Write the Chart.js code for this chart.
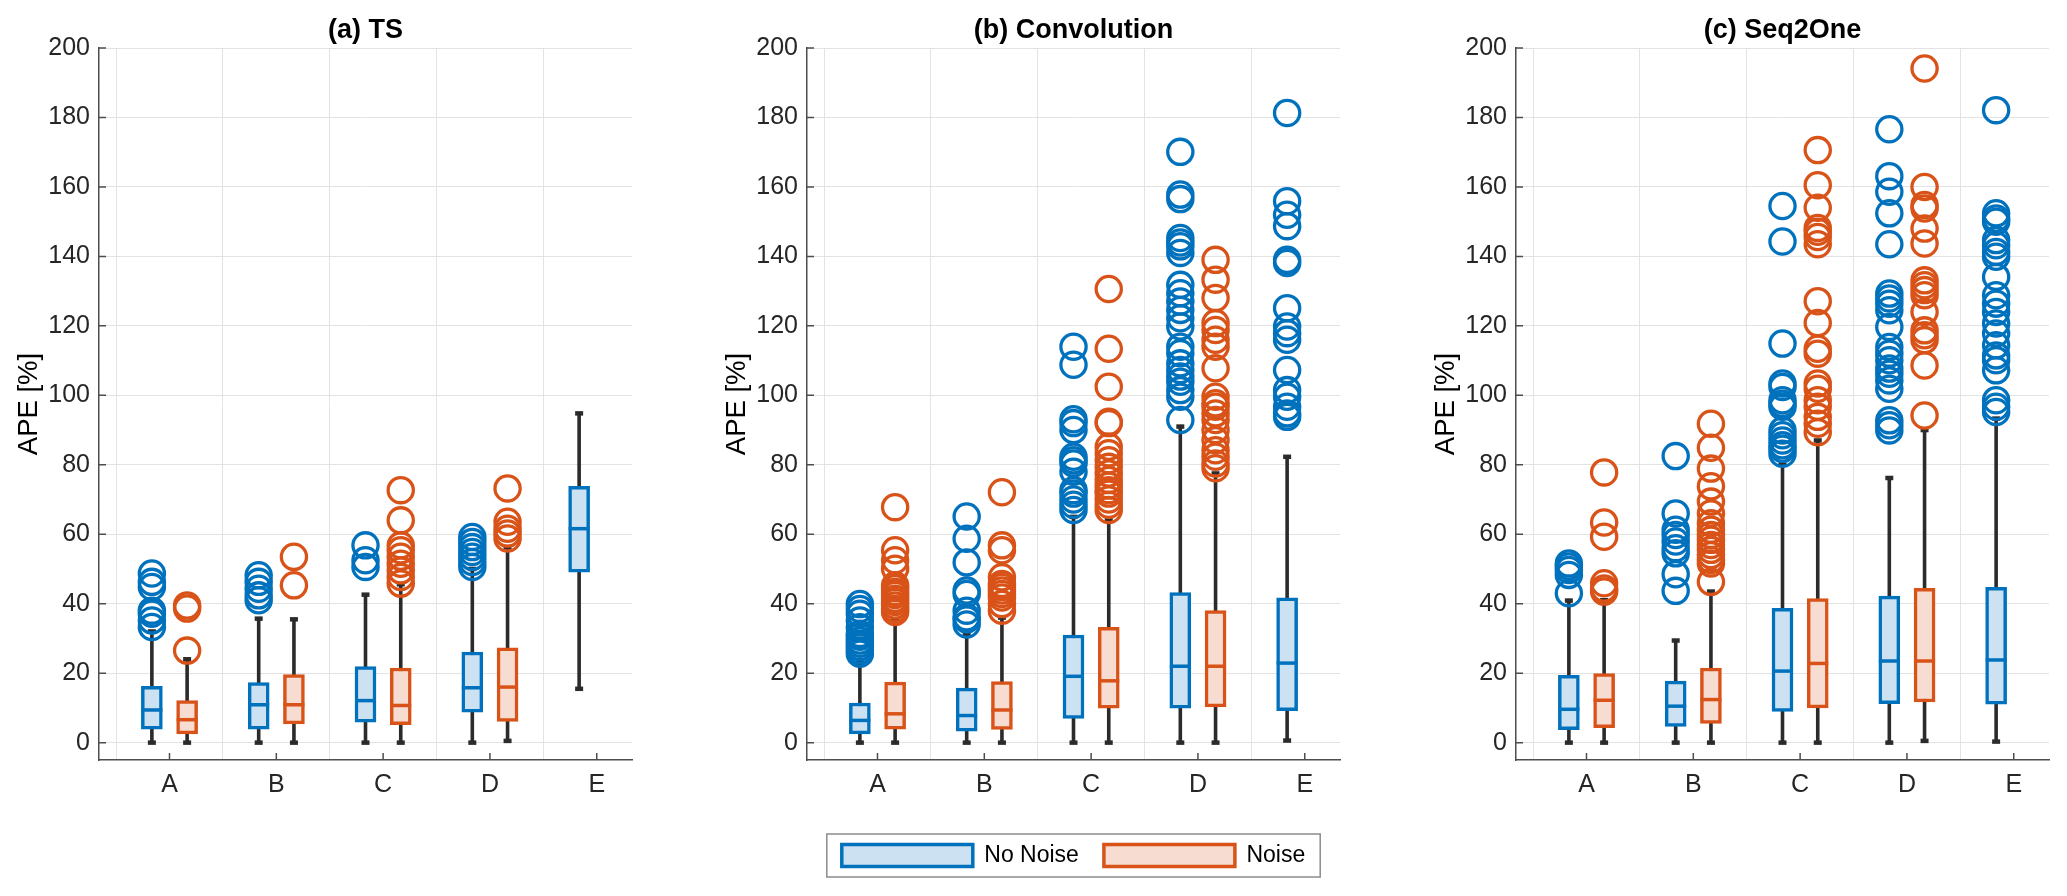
<!DOCTYPE html>
<html>
<head>
<meta charset="utf-8">
<script src="https://cdn.jsdelivr.net/npm/chart.js@4.4.0/dist/chart.umd.min.js"></script>
<style>
  html, body { margin: 0; padding: 0; background: #fff; }
  #wrap { position: relative; width: 2067px; height: 896px; overflow: hidden; }
  #wrap canvas { position: absolute; top: 0; }
</style>
</head>
<body>
<div id="wrap">
  <canvas id="chartTS" width="700" height="896" style="left:0px"></canvas>
  <canvas id="chartConv" width="700" height="896" style="left:708px"></canvas>
  <canvas id="chartSeq" width="650" height="896" style="left:1417px"></canvas>
</div>
<script>
// ---- data ----
const categories = ['A', 'B', 'C', 'D', 'E'];
const groupNames = ['No Noise', 'Noise'];
const yTicks = [0, 20, 40, 60, 80, 100, 120, 140, 160, 180, 200];

// box stats per category: [q1, median, q3, whiskerLow, whiskerHigh]
const tsNoNoise = [[3.9, 9.4, 16.2, 0, 32], [3.9, 10.9, 17.3, 0, 35.7], [5.9, 12.1, 21.9, 0, 42.6], [8.75, 15.8, 26.1, 0, 50], [49.1, 61.6, 73.8, 15.5, 94.8]];
const tsNoise = [[2.5, 6.6, 12.1, 0, 24], [5.4, 10.9, 19.6, 0, 35.5], [5.2, 10.7, 21.5, 0, 45.6], [6.1, 16, 27.3, 0.5, 56.3], null];
const tsNoNoiseOut = [[33.3, 35.2, 37.1, 38, 44.8, 46.3, 48.7], [41, 42.4, 44.3, 46.3, 48.2], [50.6, 52.5, 56.8], [50.6, 52, 53.5, 54.9, 56.3, 57.8, 59.2], []];
const tsNoiseOut = [[26.5, 38.6, 39.5], [45.3, 53.5], [45.8, 47.7, 49.6, 51.5, 53.5, 55.4, 56.8, 64, 72.7], [58.8, 60.2, 61.6, 63.6, 73.2], []];

const convNoNoise = [[2.5, 6.4, 11.4, 0, 23], [3.3, 7.8, 15.7, 0, 31], [7.0, 19.1, 31.0, 0, 65], [9.9, 22.0, 43.2, 0, 91], [9.2, 22.9, 41.7, 0.6, 82.3]];
const convNoise = [[3.9, 8.3, 17.4, 0, 35.5], [3.8, 9.4, 17.6, 0, 36], [9.9, 17.8, 33.2, 0, 64], [10.3, 22.0, 38.0, 0, 77.5], null];
const convNoNoiseOut = [
  [25.6, 26.5, 27.5, 28.5, 29.4, 30.5, 31.3, 33.2, 35.2, 37.1, 38.5, 39.9],
  [34.0, 35.5, 36.1, 38.0, 42.8, 43.8, 51.9, 58.7, 65.1],
  [67, 68.5, 70, 71.7, 72.7, 78, 80.4, 81.3, 82.3, 90, 92, 93.1, 108.8, 114],
  [92.9, 99.6, 101.5, 103.9, 105.4, 107.3, 109.2, 112.1, 114, 119.8, 122.2, 124.6, 127, 129.4, 131.8, 141, 142.9, 144, 145.3, 156.5, 157.8, 170.1],
  [93.8, 94.8, 96.7, 99.6, 101.5, 107.3, 116, 117.9, 119.8, 125.1, 138.1, 139, 148.7, 152, 155.9, 181.3]
];
const convNoiseOut = [
  [37.6, 38.5, 39.5, 40.5, 41.4, 42.5, 43.4, 44.5, 45.3, 50.1, 52.5, 55.4, 67.8],
  [38, 39.9, 41.8, 42.8, 43.8, 44.8, 45.7, 47.6, 55.4, 56.8, 72.1],
  [67, 68.5, 70, 71.7, 72.7, 74, 75.6, 77.5, 79.4, 81.3, 83.3, 85.2, 92, 92.4, 102.5, 113.4, 130.6],
  [79, 80.4, 82.3, 84.2, 87.1, 90, 92.9, 94.8, 96.7, 97.7, 99.6, 107.8, 114, 116, 118.8, 120.8, 128, 133.3, 139],
  []
];

const seqNoNoise = [[3.75, 9.6, 19.4, 0, 40.9], [4.7, 10.5, 17.7, 0, 29.4], [9.0, 20.6, 38.7, 0, 80], [11.25, 23.5, 42.2, 0, 76.2], [11.1, 23.8, 44.7, 0.3, 93.3]];
const seqNoise = [[4.3, 12.2, 19.9, 0, 41], [5.5, 12.4, 21.5, 0, 43.5], [10.0, 22.8, 41.5, 0, 87], [11.7, 23.5, 44.4, 0.5, 90], null];
const seqNoNoiseOut = [
  [43, 48.3, 49.7, 50.7, 51.6],
  [43.7, 48.5, 54.5, 56, 57.9, 59.8, 61.3, 66, 82.5],
  [83.2, 84.6, 85.6, 87, 88.5, 89.9, 96.7, 97.6, 98.6, 102.4, 103.4, 114.9, 144.3, 154.5],
  [89.9, 91.4, 92.8, 101.9, 104.3, 106.2, 107.7, 110.1, 112, 113.9, 119.7, 124.5, 126.4, 127.9, 129.3, 143.5, 152.4, 158.6, 163.1, 176.6],
  [95.2, 96.7, 98.6, 107.2, 110.1, 111.5, 114.4, 117.8, 120.7, 124, 126.4, 128.8, 134.1, 139.9, 141.3, 143.2, 144.7, 150, 150.9, 152.4, 182.1]
];
const seqNoiseOut = [
  [43.5, 44.4, 45.9, 59.3, 63.4, 77.8],
  [46.3, 51.6, 52.6, 54, 55.5, 56.9, 58.4, 59.8, 61.3, 63.2, 66, 69.4, 73.8, 78.9, 84.9, 91.8],
  [89.4, 91.8, 93.8, 96.7, 98.6, 101.9, 103.4, 112, 113.4, 120.8, 127.1, 143.5, 145.6, 147.1, 148.2, 154, 160.5, 170.6],
  [94.2, 108.6, 115.9, 117.3, 118.7, 124, 128.8, 130.3, 131.7, 133.1, 143.7, 148, 153.8, 154.8, 160, 194.1],
  []
];

// ---- styles ----
const BLUE = '#0072BD', ORANGE = '#D95319';
const BLUE_FILL = '#CCE2F2', ORANGE_FILL = '#F7DDD1';
const WHISKER = '#2b2b2b';
const AXIS_COLOR = '#4d4d4d';
const GRID_COLOR = '#e3e3e3';
const DODGE = 0.165;   // group offset from the category centre (x units)

Chart.defaults.font.family = "'Liberation Sans', Arial, Helvetica, sans-serif";
Chart.defaults.color = '#262626';

function buildDatasets(noNoise, noise, noNoiseOut, noiseOut) {
  const groups = [
    { stats: noNoise, out: noNoiseOut, off: -DODGE, line: BLUE, fill: BLUE_FILL, name: groupNames[0] },
    { stats: noise, out: noiseOut, off: DODGE, line: ORANGE, fill: ORANGE_FILL, name: groupNames[1] }
  ];
  const whiskers = [];
  const datasets = [];
  groups.forEach(g => {
    const boxes = [], medians = [], outs = [];
    g.stats.forEach((s, i) => {
      if (!s) return;
      const x = i + 1 + g.off;
      boxes.push({ x, y: [s[0], s[2]] });
      medians.push({ x, y: s[1] });
      whiskers.push({ x, y: s[3] }, { x, y: s[4] }, { x, y: null });
      (g.out[i] || []).forEach(v => outs.push({ x, y: v }));
    });
    datasets.push({
      type: 'bar', label: g.name, data: boxes,
      backgroundColor: g.fill, borderColor: g.line, borderWidth: 3.5,
      borderSkipped: false, grouped: false, barThickness: 21, maxBarThickness: 21, order: 3
    });
    datasets.push({
      type: 'scatter', label: g.name + ' median', data: medians,
      pointStyle: 'line', pointRadius: 10.5, borderColor: g.line, borderWidth: 3.5, order: 2
    });
    datasets.push({
      type: 'scatter', label: g.name + ' outliers', data: outs,
      pointStyle: 'circle', pointRadius: 12.6, borderColor: g.line,
      backgroundColor: 'rgba(0,0,0,0)', borderWidth: 3.3, order: 1
    });
  });
  datasets.push({
    type: 'line', label: 'whiskers', data: whiskers,
    borderColor: WHISKER, borderWidth: 3.6, spanGaps: false, tension: 0,
    pointStyle: 'line', pointRadius: 4, pointBorderWidth: 4.5,
    pointBorderColor: WHISKER, order: 4
  });
  return datasets;
}

// tick marks drawn inward, MATLAB style
const inwardTicks = {
  id: 'inwardTicks',
  beforeDatasetsDraw(chart) {
    const { ctx, chartArea: a, scales: { x, y } } = chart;
    ctx.save();
    ctx.strokeStyle = AXIS_COLOR;
    ctx.lineWidth = 1.5;
    ctx.beginPath();
    y.ticks.forEach(t => {
      const py = y.getPixelForValue(t.value);
      ctx.moveTo(a.left, py); ctx.lineTo(a.left + 7, py);
    });
    x.ticks.forEach(t => {
      const px = x.getPixelForValue(t.value);
      ctx.moveTo(px, a.bottom); ctx.lineTo(px, a.bottom - 7);
    });
    ctx.stroke();
    ctx.restore();
  }
};

// frame round the legend
const legendFrame = {
  id: 'legendFrame',
  afterDraw(chart) {
    const lg = chart.legend;
    if (!lg || !lg.options.display || !lg.legendHitBoxes.length) return;
    const hb = lg.legendHitBoxes;
    const first = hb[0], last = hb[hb.length - 1];
    const cy = first.top + first.height / 2;
    const { ctx } = chart;
    ctx.save();
    ctx.strokeStyle = '#8c8c8c';
    ctx.lineWidth = 1.5;
    ctx.strokeRect(first.left - 15, cy - 21.5, last.left + last.width + 15 - (first.left - 15), 43);
    ctx.restore();
  }
};

function makeChart(id, title, datasets, withLegend, padRight) {
  const ctx = document.getElementById(id).getContext('2d');
  return new Chart(ctx, {
    type: 'scatter',
    data: { datasets },
    options: {
      responsive: false,
      animation: false,
      events: [],
      layout: { padding: { left: 0, right: padRight, top: 0, bottom: withLegend ? 19 : 77 } },
      plugins: {
        tooltip: { enabled: false },
        title: {
          display: true, text: title, fullSize: false, color: '#000',
          font: { size: 27, weight: 'bold' }, padding: { top: 14.3, bottom: 1.3 }
        },
        legend: {
          display: withLegend, position: 'bottom', fullSize: false,
          labels: {
            boxWidth: 131, boxHeight: 22, padding: 25, color: '#000',
            font: { size: 23 },
            generateLabels: () => [
              { text: groupNames[0], fillStyle: BLUE_FILL, strokeStyle: BLUE, lineWidth: 3.5, hidden: false, datasetIndex: 0 },
              { text: groupNames[1], fillStyle: ORANGE_FILL, strokeStyle: ORANGE, lineWidth: 3.5, hidden: false, datasetIndex: 3 }
            ]
          }
        }
      },
      scales: {
        x: {
          type: 'linear', min: 0.34, max: 5.33, offset: false, bounds: 'data',
          afterBuildTicks: axis => { axis.ticks = categories.map((c, i) => ({ value: i + 1 })); },
          afterFit: axis => { axis.height = 59; },
          ticks: {
            callback: v => categories[Math.round(v) - 1],
            font: { size: 25 }, padding: 10, autoSkip: false, maxRotation: 0
          },
          grid: { color: GRID_COLOR, lineWidth: 1, drawTicks: false },
          border: { display: true, color: AXIS_COLOR, width: 1.5 }
        },
        y: {
          type: 'linear', min: -5, max: 200, bounds: 'data',
          afterBuildTicks: axis => { axis.ticks = yTicks.map(v => ({ value: v })); },
          afterFit: axis => { axis.width = 99; },
          ticks: { callback: v => String(v), font: { size: 25 }, padding: 9, autoSkip: false },
          grid: { color: GRID_COLOR, lineWidth: 1, drawTicks: false },
          border: { display: true, color: AXIS_COLOR, width: 1.5 },
          title: { display: true, text: 'APE [%]', color: '#000', font: { size: 27.5 }, padding: { top: 13, bottom: 0 } }
        }
      }
    },
    plugins: [inwardTicks, legendFrame]
  });
}

makeChart('chartTS', '(a) TS', buildDatasets(tsNoNoise, tsNoise, tsNoNoiseOut, tsNoiseOut), false, 68);
makeChart('chartConv', '(b) Convolution', buildDatasets(convNoNoise, convNoise, convNoNoiseOut, convNoiseOut), true, 68);
makeChart('chartSeq', '(c) Seq2One', buildDatasets(seqNoNoise, seqNoise, seqNoNoiseOut, seqNoiseOut), false, 18);
</script>
</body>
</html>
